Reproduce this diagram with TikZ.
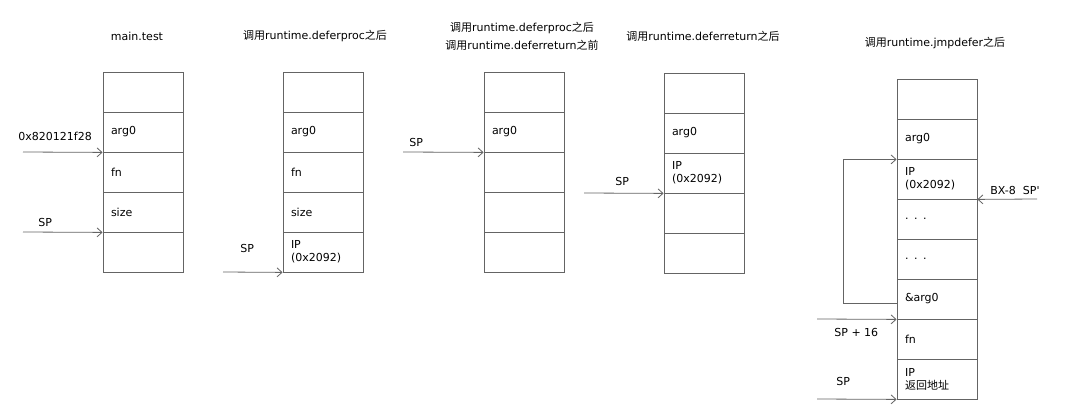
\documentclass[tikz,border=0pt]{standalone}
\usepackage{fontspec}
\setmainfont{DejaVu Sans}
\newfontfamily\cjk{Noto Sans CJK SC}
\usetikzlibrary{arrows.meta}
\definecolor{linegray}{RGB}{100,100,100}
\newcommand\zh[1]{{\cjk #1}}
\begin{document}
\begin{tikzpicture}[x=1pt,y=-1pt,line width=0.8pt,
    cell/.style={draw=linegray,minimum width=80pt,minimum height=40pt,text width=64pt,inner xsep=8pt,inner ysep=0pt,align=left,font=\fontsize{11}{13}\selectfont},
    lbl/.style={anchor=west,inner sep=0pt,font=\fontsize{11}{13}\selectfont},
    title/.style={inner sep=0pt,align=center,font=\fontsize{11}{18}\selectfont},
    ptr/.style={draw=linegray,-{Straight Barb[length=5pt,width=9pt]}}]
   \useasboundingbox (0,0) rectangle (1066,409);
   \node[title] (t1) at (137,36) {main.test};
   \node[title] (t2) at (315,36) {\zh{调用}runtime.deferproc\zh{之后}};
   \node[title] (t3) at (522,36) {\zh{调用}runtime.deferproc\zh{之后}\\\zh{调用}runtime.deferreturn\zh{之前}};
   \node[title] (t4) at (703,36) {\zh{调用}runtime.deferreturn\zh{之后}};
   \node[title] (t5) at (935,43) {\zh{调用}runtime.jmpdefer\zh{之后}};
   \foreach \t [count=\i] in {{},arg0,fn,size,{}}
     \node[cell] (a\i) at (143,52+40*\i) {\t};
   \foreach \t [count=\i] in {{},arg0,fn,size,{IP\\(0x2092)}}
     \node[cell] (b\i) at (323,52+40*\i) {\t};
   \foreach \t [count=\i] in {{},arg0,{},{},{}}
     \node[cell] (c\i) at (524,52+40*\i) {\t};
   \foreach \t [count=\i] in {{},arg0,{IP\\(0x2092)},{},{}}
     \node[cell] (d\i) at (704,53+40*\i) {\t};
   \foreach \t [count=\i] in {{},arg0,{IP\\(0x2092)},{. . .},{. . .},{\&arg0},fn,{IP\\\zh{返回地址}}}
     \node[cell] (e\i) at (937,59+40*\i) {\t};
   \coordinate (s1) at (23,152);
   \coordinate (s2) at (23,232);
   \coordinate (s3) at (223,272);
   \coordinate (s4) at (403,152);
   \coordinate (s5) at (584,193);
   \coordinate (s6) at (817,319);
   \coordinate (s7) at (817,399);
   \coordinate (s8) at (1037,199);
   \coordinate (lp) at (843,0);
   \draw[ptr] (s1) -- (a2.south west);
   \draw[ptr] (s2) -- (a4.south west);
   \draw[ptr] (s3) -- (b5.south west);
   \draw[ptr] (s4) -- (c2.south west);
   \draw[ptr] (s5) -- (d3.south west);
   \draw[ptr] ([yshift=-4pt]e6.west) -- ([yshift=-4pt]e6.west -| lp) |- (e2.south west);
   \draw[ptr] (s6) -- (e6.south west);
   \draw[ptr] (s7) -- (e8.south west);
   \draw[ptr] (s8) -- (e3.south east);
   \node[lbl] (l1) at (18,136) {0x820121f28};
   \node[lbl] (l2) at (38,222) {SP};
   \node[lbl] (l3) at (240,248) {SP};
   \node[lbl] (l4) at (409,142) {SP};
   \node[lbl] (l5) at (615,181) {SP};
   \node[lbl] (l6) at (834,332) {SP + 16};
   \node[lbl] (l7) at (836,381) {SP};
   \node[lbl] (l8) at (990,190) {BX-8~~SP\textquotesingle};
\end{tikzpicture}
\end{document}
